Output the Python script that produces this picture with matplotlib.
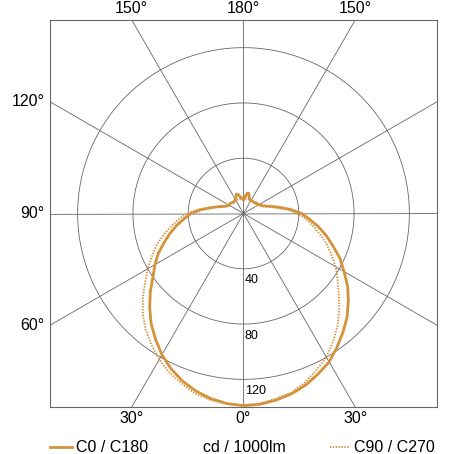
import numpy as np
import matplotlib
matplotlib.use("Agg")
import matplotlib.pyplot as plt

gamma = list(range(0, 181, 5))
c0 =   [139, 138.5, 137, 135, 132, 128, 124, 118, 112, 106, 99, 92, 84, 77, 69, 62, 55, 48, 42, 34, 26, 20, 16, 14, 13, 12, 12, 11, 11, 11, 11, 11, 12, 15, 15, 12, 10]
c180 = [139, 138, 136, 133, 129, 124, 118, 111, 104, 96, 88, 80, 74, 68, 61, 55, 49, 43, 38, 31, 24, 19, 15, 13, 12, 12, 12, 11, 11, 11, 12, 13, 15, 14, 12, 11, 10]
c90 =  [139, 138.5, 137, 135, 131, 127, 122, 116, 110, 103, 95, 87, 80, 73, 67, 60, 53, 47, 41, 33, 25, 19, 15, 13, 12, 12, 11, 11, 11, 11, 11, 11, 11, 11, 10, 10, 10]
c270 = [139, 138, 136, 134, 130, 125, 120, 113, 106, 98, 90, 83, 77, 70, 64, 57, 51, 45, 39, 32, 24, 19, 15, 13, 12, 12, 11, 11, 11, 11, 11, 11, 11, 11, 11, 10, 10]
rings = [40, 80, 120]
spoke_angles = [0, 30, 60, 90, 120, 150]
rmax = 140
col = "#D4923A"
grid = "#666666"

plt.rcParams['font.family'] = ['Liberation Sans', 'DejaVu Sans']
fig = plt.figure(figsize=(4.54, 4.54), dpi=100)
ax = fig.add_axes([50/454, 47/454, 387/454, 387/454])
ax.set_xlim(-rmax, rmax); ax.set_ylim(-rmax, rmax)
ax.set_xticks([]); ax.set_yticks([])
for s in ax.spines.values():
    s.set_color(grid); s.set_linewidth(0.8)

t = np.linspace(0, 2*np.pi, 400)
for r in rings:
    ax.plot(r*np.cos(t), r*np.sin(t), color=grid, lw=0.6)
    ax.text(1, -r - 4, str(r), ha="left", va="top", fontsize=9)
for a in spoke_angles:
    ar = np.radians(a)
    L = 300
    ax.plot([-L*np.sin(ar), L*np.sin(ar)], [-L*np.cos(ar), L*np.cos(ar)], color=grid, lw=0.6)

def half(vals, side):
    g = np.radians(gamma); v = np.array(vals, float)
    return side*v*np.sin(g), -v*np.cos(g)

x1, y1 = half(c0, 1); x2, y2 = half(c180, -1)
ax.plot(np.r_[x2[::-1], x1], np.r_[y2[::-1], y1], color=col, lw=2, solid_joinstyle="round")
x3, y3 = half(c90, -1); x4, y4 = half(c270, 1)
ax.plot(np.r_[x3[::-1], x4], np.r_[y3[::-1], y4], color=col, lw=1.3, ls=(0, (0.8, 0.8)))

tx = rmax*np.tan(np.radians(30))
ty = rmax/np.tan(np.radians(60))
fs = 11.5
for x, s in [(-tx, "30°"), (0, "0°"), (tx, "30°")]:
    ax.text(x, -rmax - 3, s, ha="center", va="top", fontsize=fs, clip_on=False)
for x, s in [(-tx, "150°"), (0, "180°"), (tx, "150°")]:
    ax.text(x, rmax + 3, s, ha="center", va="bottom", fontsize=fs, clip_on=False)
for y, s in [(ty, "120°"), (0, "90°"), (-ty, "60°")]:
    ax.text(-rmax - 4, y, s, ha="right", va="center", fontsize=fs, clip_on=False)

fig.lines.append(plt.Line2D([50/454, 72/454], [7/454, 7/454], color=col, lw=2, transform=fig.transFigure))
fig.text(76/454, 7/454, "C0 / C180", va="center", ha="left", fontsize=fs)
fig.text(244/454, 7/454, "cd / 1000lm", va="center", ha="center", fontsize=fs)
fig.lines.append(plt.Line2D([330/454, 350/454], [7/454, 7/454], color=col, lw=1.3, ls=(0, (0.8, 0.8)), transform=fig.transFigure))
fig.text(354/454, 7/454, "C90 / C270", va="center", ha="left", fontsize=fs)

fig.savefig("out.png", dpi=100)
